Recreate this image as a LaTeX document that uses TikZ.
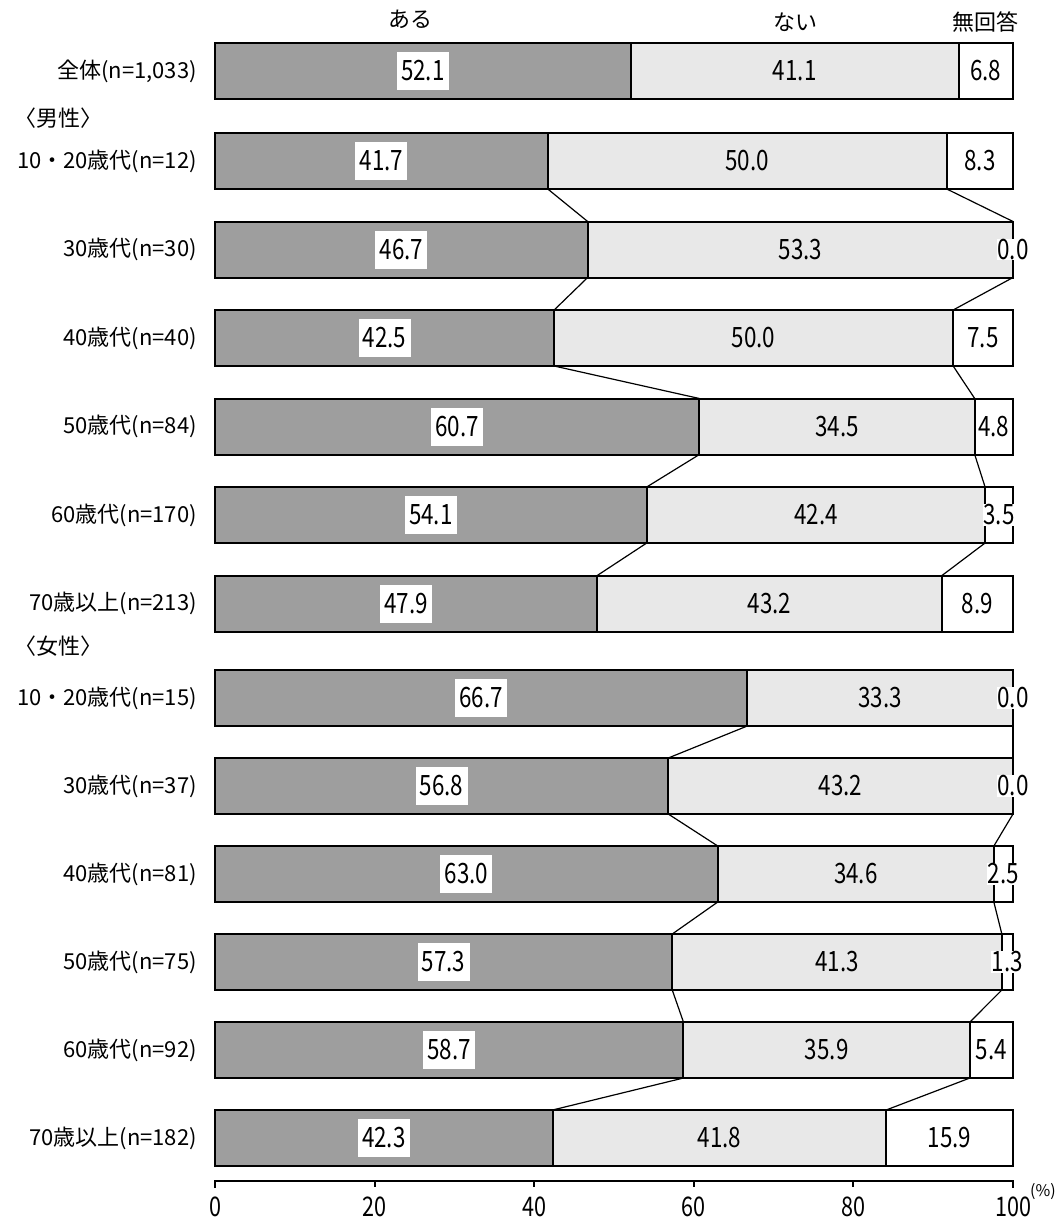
\documentclass[tikz,border=0pt]{standalone}
\usepackage{fontspec}
\setmainfont{Noto Sans CJK JP}
\newfontfamily\numfont[FakeStretch=0.8]{Noto Sans CJK JP}
\usepackage{tikz}
\usetikzlibrary{positioning}
\newcommand \barleft {215}
\newcommand \barright {1013}
\newcommand \barunit {7.98}
\tikzstyle{aru}=[draw=black,fill=black!38,line width=2pt]
\tikzstyle{nai}=[draw=black,fill=black!9,line width=2pt]
\tikzstyle{muk}=[draw=black,fill=white,line width=2pt]
\tikzstyle{boxval}=[fill=white,inner sep=0pt,minimum width=52pt,minimum height=38pt,font=\numfont\fontsize{28}{30}\selectfont]
\tikzstyle{val}=[inner sep=1pt,font=\numfont\fontsize{28}{30}\selectfont]
\tikzstyle{endval}=[fill=white,inner sep=0.5pt,font=\numfont\fontsize{28}{30}\selectfont]
\tikzstyle{rowlabel}=[anchor=east,inner sep=0pt,font=\fontsize{22}{24}\selectfont]
\tikzstyle{grp}=[anchor=west,inner sep=0pt,font=\fontsize{22}{24}\selectfont]
\tikzstyle{head}=[inner sep=0pt,font=\fontsize{22}{24}\selectfont]
\tikzstyle{tick}=[inner sep=0pt,font=\numfont\fontsize{27}{29}\selectfont]
\tikzstyle{link}=[line width=1.2pt]
\tikzstyle{axis}=[line width=2pt]
% one bar: name, y, label, aru, nai, no answer
\newcommand \surveyrow [6] {%
  \pgfmathsetmacro\xa{\barleft+\barunit*#4}
  \pgfmathsetmacro\xb{\barleft+\barunit*(#4+#5)}
  \coordinate (#1-at) at (\xa,#2-28);
  \coordinate (#1-ab) at (\xa,#2+28);
  \coordinate (#1-bt) at (\xb,#2-28);
  \coordinate (#1-bb) at (\xb,#2+28);
  \draw[aru] (\barleft,#2-28) rectangle (#1-ab);
  \draw[nai] (#1-at) rectangle (#1-bb);
  \draw[muk] (#1-bt) rectangle (\barright,#2+28);
  \node[rowlabel] (#1) at (197,#2) {#3};
  \node[boxval] (#1-a) at ({(\barleft+\xa)/2},#2) {#4};
  \node[val] (#1-n) at ({(\xa+\xb)/2},#2) {#5};
  \node[endval] (#1-m) at ({(\xb+\barright)/2},#2) {#6};
}

\begin{document}
\begin{tikzpicture}[x=1pt,y=-1pt]
      \useasboundingbox (0,0) rectangle (1064,1221);
      \node[head] (haru) at (410,19) {ある};
      \node[head] (hnai) at (795,22) {ない};
      \node[head] (hmu) at (985,22) {無回答};
      \surveyrow{all}{71}{全体(n=1,033)}{52.1}{41.1}{6.8}
      \node[grp] (male) at (14,118) {〈男性〉};
      \surveyrow{m10}{161}{10・20歳代(n=12)}{41.7}{50.0}{8.3}
      \surveyrow{m30}{249.5}{30歳代(n=30)}{46.7}{53.3}{0.0}
      \surveyrow{m40}{338}{40歳代(n=40)}{42.5}{50.0}{7.5}
      \surveyrow{m50}{426.5}{50歳代(n=84)}{60.7}{34.5}{4.8}
      \surveyrow{m60}{515}{60歳代(n=170)}{54.1}{42.4}{3.5}
      \surveyrow{m70}{603.5}{70歳以上(n=213)}{47.9}{43.2}{8.9}
      \node[grp] (female) at (14,646) {〈女性〉};
      \surveyrow{f10}{698}{10・20歳代(n=15)}{66.7}{33.3}{0.0}
      \surveyrow{f30}{786}{30歳代(n=37)}{56.8}{43.2}{0.0}
      \surveyrow{f40}{874}{40歳代(n=81)}{63.0}{34.6}{2.5}
      \surveyrow{f50}{962}{50歳代(n=75)}{57.3}{41.3}{1.3}
      \surveyrow{f60}{1050}{60歳代(n=92)}{58.7}{35.9}{5.4}
      \surveyrow{f70}{1138}{70歳以上(n=182)}{42.3}{41.8}{15.9}
      \draw[link] (m10-ab) -- (m30-at);
      \draw[link] (m10-bb) -- (m30-bt);
      \draw[link] (m30-ab) -- (m40-at);
      \draw[link] (m30-bb) -- (m40-bt);
      \draw[link] (m40-ab) -- (m50-at);
      \draw[link] (m40-bb) -- (m50-bt);
      \draw[link] (m50-ab) -- (m60-at);
      \draw[link] (m50-bb) -- (m60-bt);
      \draw[link] (m60-ab) -- (m70-at);
      \draw[link] (m60-bb) -- (m70-bt);
      \draw[link] (f10-ab) -- (f30-at);
      \draw[link] (f10-bb) -- (f30-bt);
      \draw[link] (f30-ab) -- (f40-at);
      \draw[link] (f30-bb) -- (f40-bt);
      \draw[link] (f40-ab) -- (f50-at);
      \draw[link] (f40-bb) -- (f50-bt);
      \draw[link] (f50-ab) -- (f60-at);
      \draw[link] (f50-bb) -- (f60-bt);
      \draw[link] (f60-ab) -- (f70-at);
      \draw[link] (f60-bb) -- (f70-bt);
      % axis
      \draw[axis] (215,1188) -- (215,1181) -- (1013,1181) -- (1013,1188);
      \draw[axis] (374.6,1181) -- (374.6,1187);
      \draw[axis] (534.2,1181) -- (534.2,1187);
      \draw[axis] (693.8,1181) -- (693.8,1187);
      \draw[axis] (853.4,1181) -- (853.4,1187);
      \node[tick] (t0) at (215,1207) {0};
      \node[tick] (t20) at (374.6,1207) {20};
      \node[tick] (t40) at (534.2,1207) {40};
      \node[tick] (t60) at (693.8,1207) {60};
      \node[tick] (t80) at (853.4,1207) {80};
      \node[tick] (t100) at (1013,1207) {100};
      \node[inner sep=0pt,font=\fontsize{16}{17}\selectfont] (pct) at (1043,1192) {(\%)};
\end{tikzpicture}
\end{document}
